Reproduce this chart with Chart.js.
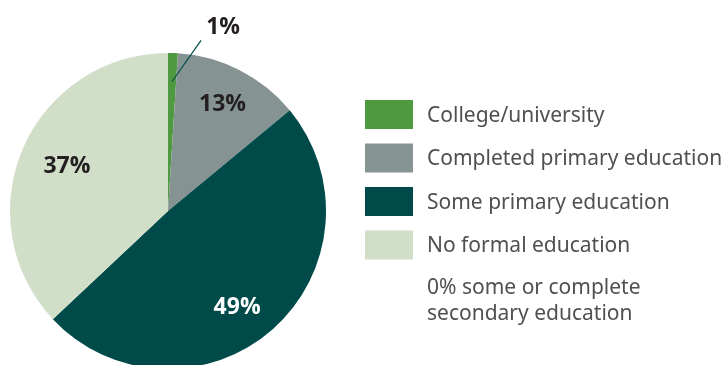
<!DOCTYPE html>
<html>
<head>
<meta charset="utf-8">
<script src="https://cdn.jsdelivr.net/npm/chart.js@4"></script>
<style>
html,body{margin:0;padding:0;background:#fff;overflow:hidden;}
#wrap{width:723px;height:365px;position:relative;overflow:hidden;}
</style>
</head>
<body>
<div id="wrap"><canvas id="c" width="723" height="369"></canvas></div>
<script>
const categories = ["College/university","Completed primary education","Some primary education","No formal education"];
const shares = [1, 13, 49, 37];
const valueLabels = ["1%","13%","49%","37%"];
const noteLines = ["0% some or complete","secondary education"];
const colors = ["#4f9a41","#859393","#004b4a","#d1dec8"];
const labelColors = ["#231f20","#231f20","#ffffff","#231f20"];

const labelPlugin = {
  id: 'sliceLabels',
  afterDatasetsDraw(chart, args, opts) {
    const ctx = chart.ctx;
    const meta = chart.getDatasetMeta(0);
    ctx.save();
    ctx.font = 'bold 23px "Open Sans", sans-serif';
    ctx.textAlign = 'center';
    ctx.textBaseline = 'middle';
    meta.data.forEach((arc, i) => {
      const p = arc.getProps(['x','y','startAngle','endAngle','outerRadius'], true);
      const mid = (p.startAngle + p.endAngle) / 2;
      if (shares[i] < 3) {
        const r1 = p.outerRadius * 0.82, r2 = p.outerRadius * 1.10;
        const a2 = mid + 0.16;
        ctx.strokeStyle = '#004b4a';
        ctx.lineWidth = 1.2;
        ctx.beginPath();
        ctx.moveTo(p.x + Math.cos(mid) * r1, p.y + Math.sin(mid) * r1);
        ctx.lineTo(p.x + Math.cos(a2) * r2, p.y + Math.sin(a2) * r2);
        ctx.stroke();
        ctx.fillStyle = labelColors[i];
        ctx.fillText(valueLabels[i], p.x + Math.cos(a2) * r2 + 22, p.y + Math.sin(a2) * r2 - 13);
      } else {
        const adj = opts.adjust[i] || [0, 0.76];
        const a = mid + adj[0];
        const r = p.outerRadius * adj[1];
        ctx.fillStyle = labelColors[i];
        ctx.fillText(valueLabels[i], p.x + Math.cos(a) * r, p.y + Math.sin(a) * r);
      }
    });
    ctx.restore();
  }
};

const legendPlugin = {
  id: 'sideLegend',
  afterDraw(chart) {
    const ctx = chart.ctx;
    const area = chart.chartArea;
    const x0 = area.right + 39;
    const y0 = 100;
    const step = 43.5;
    ctx.save();
    ctx.font = '21px "Noto Sans", sans-serif';
    ctx.textBaseline = 'middle';
    ctx.textAlign = 'left';
    categories.forEach((c, i) => {
      const y = y0 + i * step;
      ctx.fillStyle = colors[i];
      ctx.fillRect(x0, y, 48, 29);
      ctx.fillStyle = '#505050';
      ctx.fillText(c, x0 + 62, y + 16);
    });
    noteLines.forEach((t, j) => {
      ctx.fillStyle = '#505050';
      ctx.fillText(t, x0 + 62, y0 + categories.length * step + 14 + j * 26);
    });
    ctx.restore();
  }
};

new Chart(document.getElementById('c'), {
  type: 'pie',
  data: {
    labels: categories,
    datasets: [{
      data: shares,
      backgroundColor: colors,
      borderWidth: 0
    }]
  },
  options: {
    responsive: false,
    animation: false,
    layout: { padding: { left: 10, right: 397, top: 53, bottom: 0 } },
    plugins: {
      legend: { display: false },
      tooltip: { enabled: false },
      sliceLabels: { adjust: { 1: [0, 0.76], 2: [0.10, 0.75], 3: [0.01, 0.70] } }
    }
  },
  plugins: [labelPlugin, legendPlugin]
});
</script>
</body>
</html>
